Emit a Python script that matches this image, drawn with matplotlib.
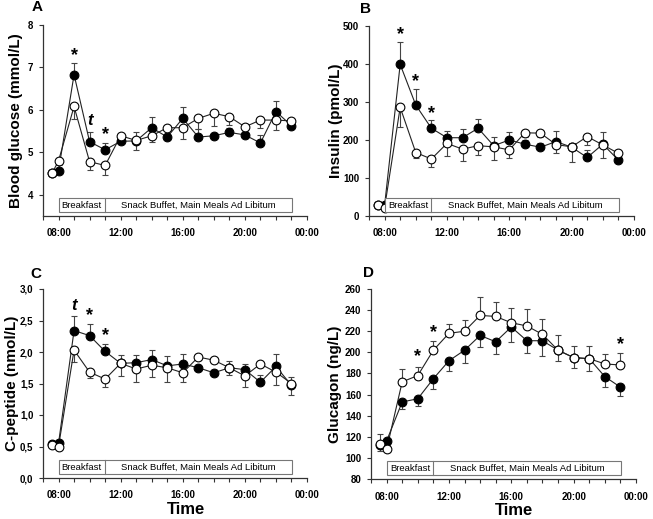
import matplotlib
matplotlib.use("Agg")
import matplotlib.pyplot as plt
from matplotlib.patches import Rectangle
from matplotlib.ticker import MultipleLocator, FixedLocator, FuncFormatter
import numpy as np

plt.rcParams['font.family'] = ['Liberation Sans', 'DejaVu Sans']
plt.rcParams['font.weight'] = 'bold'

# sampling times (hours of day)
hours = [7.6, 8, 9, 10, 11, 12, 13, 14, 15, 16, 17, 18, 19, 20, 21, 22, 23]
xtick_hours = [8, 12, 16, 20, 24]
xtick_labels = ["08:00", "12:00", "16:00", "20:00", "00:00"]

# A - blood glucose (mmol/L)
glu_filled = [4.52, 4.57, 6.83, 5.25, 5.06, 5.26, 5.27, 5.58, 5.36, 5.80, 5.36, 5.39, 5.47, 5.41, 5.22, 5.96, 5.63]
glu_filled_err = [0.03, 0.05, 0.28, 0.22, 0.16, 0.05, 0.20, 0.25, 0.05, 0.26, 0.18, 0.05, 0.10, 0.05, 0.18, 0.25, 0.05]
glu_open = [4.52, 4.80, 6.08, 4.78, 4.69, 5.39, 5.28, 5.39, 5.58, 5.58, 5.80, 5.92, 5.84, 5.60, 5.76, 5.76, 5.74]
glu_open_err = [0.03, 0.10, 0.30, 0.20, 0.22, 0.05, 0.22, 0.14, 0.05, 0.27, 0.25, 0.30, 0.20, 0.05, 0.19, 0.23, 0.08]

# B - insulin (pmol/L)
ins_filled = [30, 28, 399, 292, 231, 206, 206, 231, 185, 200, 189, 181, 196, 181, 154, 189, 147]
ins_filled_err = [5, 5, 58, 41, 22, 18, 22, 24, 22, 21, 10, 10, 28, 12, 20, 32, 10]
ins_open = [30, 22, 286, 167, 150, 191, 176, 185, 182, 174, 219, 218, 188, 182, 209, 187, 165]
ins_open_err = [5, 5, 51, 15, 20, 32, 31, 24, 35, 22, 10, 10, 23, 39, 23, 35, 10]

# C - C-peptide (nmol/L)
cpep_filled = [0.54, 0.55, 2.34, 2.26, 2.01, 1.82, 1.83, 1.88, 1.78, 1.81, 1.75, 1.67, 1.75, 1.72, 1.52, 1.77, 1.47]
cpep_filled_err = [0.02, 0.02, 0.23, 0.18, 0.12, 0.14, 0.13, 0.15, 0.15, 0.16, 0.05, 0.05, 0.11, 0.09, 0.12, 0.20, 0.14]
cpep_open = [0.53, 0.50, 2.03, 1.68, 1.57, 1.82, 1.73, 1.79, 1.75, 1.67, 1.92, 1.87, 1.75, 1.62, 1.81, 1.68, 1.50]
cpep_open_err = [0.02, 0.02, 0.19, 0.09, 0.13, 0.20, 0.20, 0.19, 0.22, 0.15, 0.05, 0.05, 0.11, 0.18, 0.05, 0.20, 0.18]

# D - glucagon (ng/L)
gcg_filled = [112, 116, 153, 156, 175, 192, 202, 216, 210, 224, 211, 211, 202, 195, 194, 177, 167]
gcg_filled_err = [5, 4, 7, 7, 10, 9.5, 12.5, 11, 11.7, 14, 12, 14.6, 10, 10, 11.4, 9.5, 8.5]
gcg_open = [113, 108, 172, 178, 202, 218, 220, 235, 234, 228, 225, 217, 202, 195, 194, 189, 188]
gcg_open_err = [10, 4, 12.6, 8.5, 9, 8.5, 11, 17, 14, 13.6, 16, 15, 14, 11.4, 11.7, 9.4, 11.7]

# significance marks: (hour, value, text)
marks_A = [(9, 7.33, '*'), (10, 5.76, 't'), (11, 5.46, '*')]
marks_B = [(9, 483, '*'), (10, 360, '*'), (11, 276, '*')]
marks_C = [(9, 2.74, 't'), (10, 2.61, '*'), (11, 2.29, '*')]
marks_D = [(10, 198, '*'), (11, 221, '*'), (23, 209, '*')]

W, H = 653, 519
fig = plt.figure(figsize=(W / 100, H / 100), dpi=100)


def px_axes(left, top, right, bottom):
    return fig.add_axes([left / W, 1 - bottom / H, (right - left) / W, (bottom - top) / H])


def panel(ax, filled, ferr, opn, oerr, filled_up, ylim, yticks, fmt, ylabel, marks, letter,
          label_x, letter_xy):
    zeros = [0] * len(hours)
    if filled_up:
        fe, oe = [zeros, ferr], [oerr, zeros]
    else:
        fe, oe = [ferr, zeros], [zeros, oerr]
    ax.errorbar(hours, filled, yerr=fe, fmt='none', ecolor='#444444', elinewidth=0.8,
                capsize=2.3, capthick=0.8, zorder=1)
    ax.errorbar(hours, opn, yerr=oe, fmt='none', ecolor='#444444', elinewidth=0.8,
                capsize=2.3, capthick=0.8, zorder=1)
    ax.plot(hours, filled, '-', color='#222222', lw=0.8, zorder=2)
    ax.plot(hours, opn, '-', color='#222222', lw=0.8, zorder=2)
    ax.plot(hours, filled, 'o', ms=6.3, mfc='black', mec='black', mew=0.8, zorder=3)
    ax.plot(hours, opn, 'o', ms=6.3, mfc='white', mec='black', mew=0.8, zorder=4)

    ax.set_xlim(7, 24)
    ax.set_ylim(*ylim)
    ax.xaxis.set_major_locator(FixedLocator(xtick_hours))
    ax.xaxis.set_minor_locator(MultipleLocator(1))
    ax.set_xticklabels(xtick_labels)
    ax.yaxis.set_major_locator(FixedLocator(yticks))
    ax.yaxis.set_major_formatter(FuncFormatter(fmt))
    for s in ['top', 'right']:
        ax.spines[s].set_visible(False)
    for s in ['left', 'bottom']:
        ax.spines[s].set_color('#333333')
        ax.spines[s].set_linewidth(0.9)
    ax.tick_params(which='both', direction='out', length=3, width=0.8, color='#333333',
                   labelsize=7, pad=4)
    ax.tick_params(axis='x', pad=6)
    ax.set_ylabel(ylabel, fontsize=11, fontweight='bold')
    ax.yaxis.set_label_coords(label_x, 0.5)

    # meal box
    tr = ax.get_xaxis_transform()
    y0, y1 = 0.022, 0.093
    ax.add_patch(Rectangle((8, y0), 23.05 - 8, y1 - y0, transform=tr, fc='white',
                           ec='#777777', lw=0.8, zorder=5))
    ax.plot([11, 11], [y0, y1], transform=tr, color='#777777', lw=0.8, zorder=6)
    ax.text(9.5, (y0 + y1) / 2, 'Breakfast', transform=tr, ha='center', va='center',
            fontsize=6.8, fontweight='normal', zorder=7)
    ax.text(17.02, (y0 + y1) / 2, 'Snack Buffet, Main Meals Ad Libitum', transform=tr,
            ha='center', va='center', fontsize=6.8, fontweight='normal', zorder=7)

    for x, y, s in marks:
        if s == '*':
            ax.annotate(s, (x, y), xytext=(0, -1.5), textcoords='offset points', ha='center',
                        va='center', fontsize=13, fontweight='bold')
        else:
            ax.annotate(s, (x, y), xytext=(0, 0), textcoords='offset points', ha='center',
                        va='center', fontsize=12, fontweight='bold', style='italic')
    ax.text(letter_xy[0], letter_xy[1], letter, transform=ax.transAxes, ha='center',
            va='center', fontsize=11, fontweight='bold')


axA = px_axes(43, 25, 307, 216)
axB = px_axes(369, 26, 634, 216)
axC = px_axes(43, 289, 307, 478)
axD = px_axes(371, 289, 636, 479)

int_fmt = lambda v, p: "%d" % v
comma_fmt = lambda v, p: ("%.1f" % v).replace('.', ',')

panel(axA, glu_filled, glu_filled_err, glu_open, glu_open_err, True, (3.5, 8),
      [4, 5, 6, 7, 8], int_fmt, 'Blood glucose (mmol/L)', marks_A, 'A', -0.076, (-0.023, 1.094))
panel(axB, ins_filled, ins_filled_err, ins_open, ins_open_err, True, (0, 500),
      [0, 100, 200, 300, 400, 500], int_fmt, 'Insulin (pmol/L)', marks_B, 'B', -0.10, (-0.015, 1.092))
panel(axC, cpep_filled, cpep_filled_err, cpep_open, cpep_open_err, True, (0, 3),
      [0, 0.5, 1.0, 1.5, 2.0, 2.5, 3.0], comma_fmt, 'C-peptide (nmol/L)', marks_C, 'C', -0.092,
      (-0.026, 1.079))
panel(axD, gcg_filled, gcg_filled_err, gcg_open, gcg_open_err, False, (80, 260),
      list(range(80, 261, 20)), int_fmt, 'Glucagon (ng/L)', marks_D, 'D', -0.108, (-0.01, 1.085))

for ax in (axC, axD):
    ax.set_xlabel('Time', fontsize=12, fontweight='bold')
    ax.xaxis.set_label_coords(0.54, -0.128)

fig.savefig('out.png', dpi=100)
